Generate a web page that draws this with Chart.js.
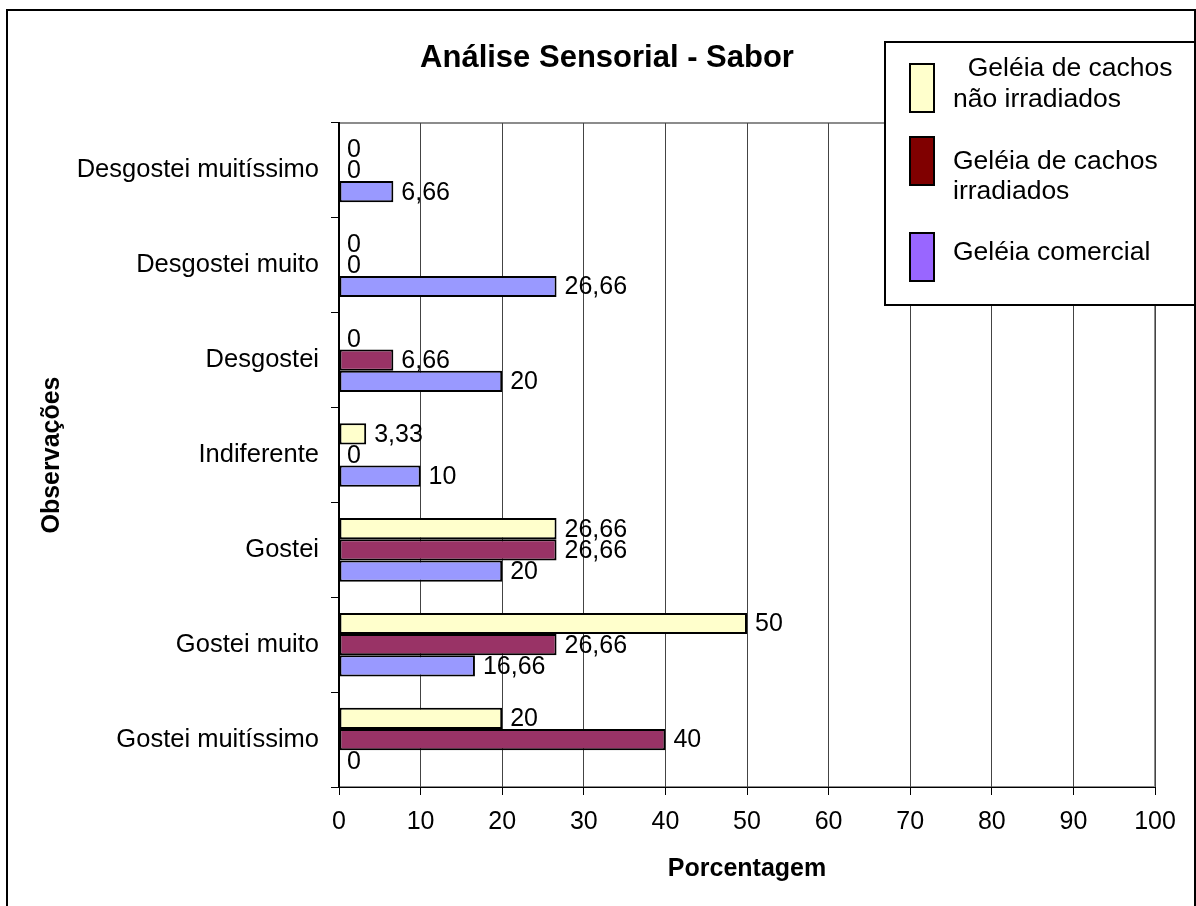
<!DOCTYPE html>
<html><head><meta charset="utf-8">
<script src="https://cdn.jsdelivr.net/npm/chart.js@4.4.0/dist/chart.umd.min.js"></script>
<style>html,body{margin:0;padding:0;background:#fff;overflow:hidden}canvas{display:block}</style>
</head><body>
<canvas id="c" width="1196" height="906"></canvas>
<script>
const categories = ["Desgostei muitíssimo","Desgostei muito","Desgostei","Indiferente","Gostei","Gostei muito","Gostei muitíssimo"];
const naoIrradiados = [0, 0, 0, 3.33, 26.66, 50, 20];
const irradiados = [0, 0, 6.66, 0, 26.66, 26.66, 40];
const comercial = [6.66, 26.66, 20, 10, 20, 16.66, 0];
const seriesNames = ["Geléia de cachos não irradiados","Geléia de cachos irradiados","Geléia comercial"];
const legendLines = [["  Geléia de cachos","não irradiados"],["Geléia de cachos","irradiados"],["Geléia comercial"]];
const barColors = ["#FFFFCC","#993366","#9999FF"];
const legendColors = ["#FFFFCC","#800000","#9966FF"];
const xTicks = [0,10,20,30,40,50,60,70,80,90,100];
const chartTitle = "Análise Sensorial - Sabor";
const xTitle = "Porcentagem";
const yTitle = "Observações";

const FONT = "'Liberation Sans', Arial, Helvetica, sans-serif";
Chart.defaults.font.family = FONT;
Chart.defaults.color = "#000";

const fmt = v => String(v).replace('.', ',');

const framePlugin = {
  id: 'frame',
  beforeDraw(chart) {
    const ctx = chart.ctx, a = chart.chartArea;
    ctx.save();
    ctx.fillStyle = '#fff';
    ctx.fillRect(0, 0, chart.width, chart.height);
    ctx.strokeStyle = '#000';
    ctx.lineWidth = 2;
    ctx.strokeRect(7, 10, 1188, 930);
    ctx.strokeStyle = '#8c8c8c';
    ctx.lineWidth = 2;
    ctx.strokeRect(a.left, a.top, a.right - a.left, a.bottom - a.top);
    ctx.restore();
  },
  afterDatasetsDraw(chart) {
    const ctx = chart.ctx;
    ctx.save();
    ctx.font = "25px " + FONT;
    ctx.fillStyle = '#000';
    ctx.textAlign = 'left';
    ctx.textBaseline = 'middle';
    chart.data.datasets.forEach((ds, i) => {
      const meta = chart.getDatasetMeta(i);
      meta.data.forEach((bar, j) => {
        ctx.fillText(fmt(ds.data[j]), bar.x + 8, bar.y + 1);
      });
    });
    ctx.restore();
  },
  afterDraw(chart) {
    const ctx = chart.ctx;
    ctx.save();
    // title
    ctx.font = "bold 31px " + FONT;
    ctx.fillStyle = '#000';
    ctx.textAlign = 'center';
    ctx.textBaseline = 'middle';
    ctx.fillText(chartTitle, 607, 58);
    // legend
    ctx.fillStyle = '#fff';
    ctx.fillRect(885, 42, 310, 263);
    ctx.strokeStyle = '#000';
    ctx.lineWidth = 2;
    ctx.strokeRect(885, 42, 310, 263);
    const swY = [64, 137, 233];
    const textY = [[69, 100], [162, 192], [253]];
    ctx.font = "26.5px " + FONT;
    ctx.textAlign = 'left';
    legendLines.forEach((lines, i) => {
      ctx.fillStyle = legendColors[i];
      ctx.fillRect(910, swY[i], 24, 48);
      ctx.strokeStyle = '#000';
      ctx.lineWidth = 2;
      ctx.strokeRect(910, swY[i], 24, 48);
      ctx.fillStyle = '#000';
      lines.forEach((t, k) => ctx.fillText(t, 953, textY[i][k]));
    });
    ctx.restore();
  }
};

new Chart(document.getElementById('c'), {
  type: 'bar',
  data: {
    labels: categories,
    datasets: [
      { label: seriesNames[0], data: naoIrradiados, backgroundColor: barColors[0] },
      { label: seriesNames[1], data: irradiados, backgroundColor: barColors[1] },
      { label: seriesNames[2], data: comercial, backgroundColor: barColors[2] }
    ].map(d => Object.assign(d, { borderColor: '#000', borderWidth: 2, borderSkipped: false, categoryPercentage: 0.67, barPercentage: 1.0 }))
  },
  options: {
    indexAxis: 'y',
    responsive: false,
    animation: false,
    devicePixelRatio: 1,
    layout: { padding: { top: 123, right: 41, bottom: 0, left: 0 } },
    plugins: { legend: { display: false }, title: { display: false }, tooltip: { enabled: false } },
    scales: {
      x: {
        min: 0, max: 100,
        afterFit: s => { s.height = 119; },
        afterBuildTicks: s => { s.ticks = xTicks.map(v => ({ value: v })); },
        ticks: { font: { size: 25 }, color: '#000', padding: 12, maxRotation: 0 },
        grid: { color: '#444', lineWidth: 1, tickLength: 8, tickColor: '#000', drawTicks: true },
        border: { color: '#000', width: 1 },
        title: { display: true, text: xTitle, font: { size: 25, weight: 'bold' }, color: '#000', padding: { top: 0, bottom: 22 } }
      },
      y: {
        afterFit: s => { s.width = 339; },
        ticks: { font: { size: 25.5 }, color: '#000', padding: 12 },
        grid: { drawOnChartArea: false, drawTicks: true, tickLength: 8, tickColor: '#000', offset: true },
        border: { color: '#000', width: 2 },
        title: { display: true, text: yTitle, font: { size: 25, weight: 'bold' }, color: '#000', padding: { top: 37, bottom: 0 } }
      }
    }
  },
  plugins: [framePlugin]
});
</script>
</body></html>
